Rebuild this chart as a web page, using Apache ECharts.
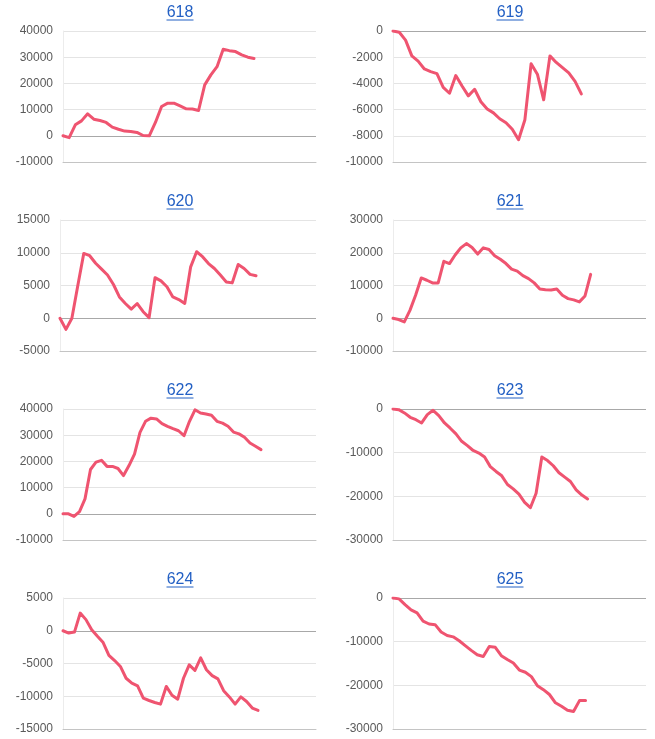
<!DOCTYPE html>
<html>
<head>
<meta charset="utf-8">
<script src="https://cdn.jsdelivr.net/npm/echarts@6/dist/echarts.min.js"></script>
<style>
html,body{margin:0;padding:0;background:#fff;}
#chart{width:655px;height:739px;}
</style>
</head>
<body>
<div id="chart"></div>
<script>
// ---- data ----
const titles = ['618', '619', '620', '621', '622', '623', '624', '625'];
const s618 = [0,-700,4200,5700,8400,6350,5850,5100,3300,2500,1800,1650,1300,100,0,5100,11200,12450,12450,11400,10300,10200,9650,19450,23250,26400,33000,32500,32150,30900,30000,29500];
const s619 = [0,-100,-700,-1900,-2300,-2900,-3100,-3250,-4300,-4750,-3400,-4200,-4950,-4450,-5400,-5950,-6250,-6700,-7000,-7500,-8300,-6800,-2500,-3300,-5250,-1900,-2400,-2800,-3200,-3850,-4800];
const s620 = [0,-1700,0,5000,9900,9550,8400,7500,6600,5150,3250,2250,1400,2250,1000,100,6200,5700,4800,3250,2850,2250,7850,10150,9400,8350,7600,6600,5550,5400,8200,7600,6700,6500];
const s621 = [0,-400,-1100,2400,7000,12300,11600,10800,10800,17400,16700,19300,21500,22800,21600,19600,21500,21000,19100,18000,16700,15000,14400,13000,12100,10800,8900,8700,8600,8900,7000,6000,5600,5000,6800,13400];
const s622 = [0,0,-1000,800,5700,16900,19700,20400,18100,18100,17300,14600,18400,22800,31100,35300,36500,36200,34400,33400,32500,31700,29800,35300,39700,38500,38100,37600,35300,34600,33400,31200,30500,29200,27000,25800,24500];
const s623 = [0,-150,-900,-1900,-2450,-3200,-1300,-300,-1500,-3200,-4400,-5700,-7400,-8400,-9500,-10100,-11000,-13200,-14300,-15300,-17300,-18300,-19500,-21400,-22600,-19300,-11000,-11800,-13000,-14600,-15600,-16600,-18500,-19700,-20600];
const s624 = [0,-350,-200,2700,1700,150,-850,-1800,-3750,-4550,-5450,-7250,-8000,-8400,-10300,-10650,-10950,-11200,-8500,-9850,-10450,-7250,-5200,-6050,-4150,-5950,-6850,-7350,-9150,-10100,-11200,-10100,-10800,-11800,-12150];
const s625 = [0,-200,-1500,-2700,-3400,-5300,-5950,-6100,-7800,-8600,-8900,-9800,-10900,-12000,-13000,-13400,-11100,-11300,-13200,-14100,-14900,-16500,-17000,-18000,-20100,-21000,-22100,-24000,-24800,-25700,-26000,-23500,-23500];
const seriesValues = [s618, s619, s620, s621, s622, s623, s624, s625];
// y-axis tick ranges [min, max, interval]
const yMins = [-10000, -10000, -5000, -10000, -10000, -30000, -15000, -30000];
const yMaxs = [40000, 0, 15000, 30000, 40000, 0, 5000, 0];
const yIntervals = [10000, 2000, 5000, 10000, 10000, 10000, 5000, 10000];

// ---- layout ----
const xDomain = [41.06, 40.3, 43.1, 44.8, 46.0, 44.2, 44.1, 42.05];
const rowTops = [31, 220, 409, 598];
const plotH = 131;
const W = 655, H = 739;
const lineColor = '#ef5470';
const linkColor = '#2360c4';
const font = 'Arial, "Liberation Sans", sans-serif';

const grids = [], xAxes = [], yAxes = [], series = [], graphics = [];
titles.forEach((t, k) => {
  const row = Math.floor(k / 2), col = k % 2;
  const top = rowTops[row];
  const left = col === 0 ? (k === 2 ? 60 : 63) : 393;
  const right = col === 0 ? 339 : 9;
  grids.push({ left: left, right: right, top: top, bottom: H - top - plotH });
  xAxes.push({
    gridIndex: k, type: 'value', min: 0, max: xDomain[k],
    axisLabel: { show: false }, axisTick: { show: false }, splitLine: { show: false },
    axisLine: { show: true, onZero: false, lineStyle: { color: '#c4c4c4', width: 1 } }
  });
  yAxes.push({
    gridIndex: k, type: 'value', min: yMins[k], max: yMaxs[k], interval: yIntervals[k],
    axisLine: { show: true, lineStyle: { color: '#ececec', width: 1 } },
    axisTick: { show: false },
    axisLabel: { color: '#5a5a5a', fontSize: 12, fontFamily: font, margin: 10, formatter: v => String(v) },
    splitLine: { show: true, lineStyle: { color: '#e4e4e4', width: 1 } }
  });
  series.push({
    type: 'line', xAxisIndex: k, yAxisIndex: k,
    data: seriesValues[k].map((v, i) => [i, v]),
    showSymbol: false, symbol: 'none',
    lineStyle: { color: lineColor, width: 3, cap: 'round', join: 'round' },
    itemStyle: { color: lineColor },
    markLine: {
      silent: true, symbol: 'none', label: { show: false }, animation: false,
      lineStyle: { color: '#a8a8a8', type: 'solid', width: 1 },
      data: [{ yAxis: 0 }]
    },
    z: 5
  });
  const cx = col === 0 ? 180 : 510;
  const cy = top - 18.5;
  graphics.push({
    type: 'text', x: cx, y: cy,
    style: { text: t, fill: linkColor, font: 'normal 16px ' + font, textAlign: 'center', textVerticalAlign: 'middle' }
  });
  graphics.push({
    type: 'line', shape: { x1: cx - 13.5, y1: cy + 7.5, x2: cx + 13.5, y2: cy + 7.5 },
    style: { stroke: linkColor, lineWidth: 1 }
  });
});

const chart = echarts.init(document.getElementById('chart'), null, { renderer: 'canvas' });
chart.setOption({
  animation: false,
  backgroundColor: '#ffffff',
  grid: grids,
  xAxis: xAxes,
  yAxis: yAxes,
  series: series,
  graphic: graphics
});
</script>
</body>
</html>
